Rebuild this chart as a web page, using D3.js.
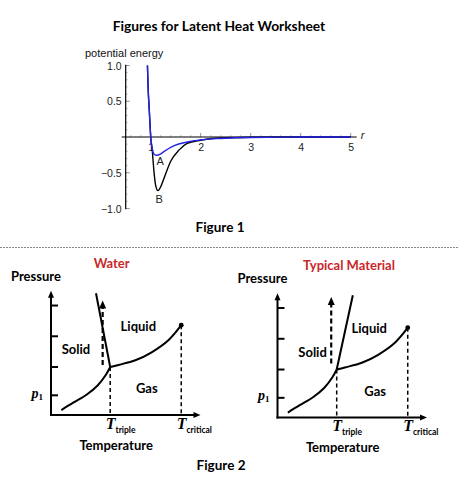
<!DOCTYPE html>
<html>
<head>
<meta charset="utf-8">
<script src="https://cdn.jsdelivr.net/npm/d3@7"></script>
<style>
  html, body { margin: 0; padding: 0; background: #fff; }
  svg { display: block; }
</style>
</head>
<body>
<div id="chart"></div>
<script>
// ---- Figure 1 data ----
const r_values   = [0.92, 0.935, 0.95, 0.967, 0.985, 1.0, 1.03, 1.065, 1.1, 1.145, 1.19, 1.27, 1.4, 1.57, 1.73, 2.0, 2.4, 3.0, 4.0, 5.0];
const pe_black   = [1.25, 1.0, 0.66, 0.43, 0.2, 0, -0.18, -0.48, -0.68, -0.75, -0.71, -0.57, -0.34, -0.18, -0.09, -0.045, -0.015, -0.004, 0, 0];
const r_blue     = [0.92, 0.935, 0.95, 0.967, 0.985, 1.0, 1.02, 1.04, 1.07, 1.12, 1.2, 1.27, 1.47, 1.73, 2.0, 2.4, 3.0, 4.0, 5.0];
const pe_blue    = [1.25, 1.0, 0.66, 0.43, 0.2, 0, -0.12, -0.2, -0.24, -0.255, -0.235, -0.2, -0.12, -0.07, -0.04, -0.02, -0.006, -0.001, 0];
const x_ticks    = [1, 2, 3, 4, 5];
const y_ticks    = [1.0, 0.5, -0.5, -1.0];
const y_tick_lbl = ['1.0', '0.5', '\u22120.5', '\u22121.0'];

// ---- Figure 2 data (abstract units 0..10 on both axes) ----
const gas_solid   = [[0.7, 0.4], [1.5, 1.0], [2.4, 1.65], [3.15, 2.4], [3.7, 3.25], [4.0, 3.9]];
const liquid_gas  = [[4.0, 3.9], [4.55, 4.07], [5.7, 4.45], [6.8, 5.1], [7.95, 6.1], [8.8, 7.3]];
const triple_pt   = [4.0, 3.9];
const critical_pt = [8.8, 7.3];
const p_ticks     = [1.6, 3.9, 6.4, 8.9];
const panels = [
  { title: 'Water',            melt_top: [3.04, 9.9], arrow_x: 3.49, arrow_from: 4.07, arrow_to: 9.3 },
  { title: 'Typical Material', melt_top: [5.09, 9.94], arrow_x: 3.63, arrow_from: 4.39, arrow_to: 9.8 }
];

const width = 458, height = 479;
const svg = d3.select('#chart').append('svg')
  .attr('width', width).attr('height', height)
  .attr('viewBox', [0, 0, width, height]);

const sans = 'Lato, "Open Sans", sans-serif';
const helv = '"Liberation Sans", Arial, sans-serif';
const serif = '"Liberation Serif", "DejaVu Serif", serif';

svg.append('text').attr('x', 219).attr('y', 31).attr('text-anchor', 'middle')
  .attr('font-family', sans).attr('font-weight', 700).attr('font-size', 13.8)
  .text('Figures for Latent Heat Worksheet');

// ━━━━━━━━━━━━━━━━━━━━━━━━━━━━━━━━━━━━━━━━━━━━━━━━━━━━━━━━━━━━━━━━
// Figure 1: potential energy
// ━━━━━━━━━━━━━━━━━━━━━━━━━━━━━━━━━━━━━━━━━━━━━━━━━━━━━━━━━━━━━━━━
const x = d3.scaleLinear().domain([0.5, 5]).range([125.7, 350.7]);
const y = d3.scaleLinear().domain([-1, 1]).range([208.5, 65.5]);

const fig1 = svg.append('g').attr('id', 'figure-1');
fig1.append('defs').append('clipPath').attr('id', 'clip1')
  .append('rect').attr('x', x(0.5)).attr('y', y(1)).attr('width', x(5.2) - x(0.5)).attr('height', y(-1) - y(1));

// minor ticks
const minorX = d3.range(0.6, 5.01, 0.2).filter(v => Math.abs(v - Math.round(v)) > 0.01);
fig1.append('g').selectAll('line').data(minorX).join('line')
  .attr('x1', d => x(d)).attr('x2', d => x(d)).attr('y1', y(0)).attr('y2', y(0) - 2)
  .attr('stroke', '#999').attr('stroke-width', 0.6);
fig1.append('g').selectAll('line').data(x_ticks).join('line')
  .attr('x1', d => x(d)).attr('x2', d => x(d)).attr('y1', y(0)).attr('y2', y(0) - 4)
  .attr('stroke', '#777').attr('stroke-width', 0.8);
const minorY = d3.range(-0.9, 0.91, 0.1).filter(v => Math.abs(v * 2 - Math.round(v * 2)) > 0.01);
fig1.append('g').selectAll('line').data(minorY).join('line')
  .attr('x1', x(0.5)).attr('x2', x(0.5) + 2).attr('y1', d => y(d)).attr('y2', d => y(d))
  .attr('stroke', '#999').attr('stroke-width', 0.6);
fig1.append('g').selectAll('line').data(y_ticks).join('line')
  .attr('x1', x(0.5)).attr('x2', x(0.5) + 4).attr('y1', d => y(d)).attr('y2', d => y(d))
  .attr('stroke', '#777').attr('stroke-width', 0.8);

// axes
fig1.append('line').attr('x1', x(0.42)).attr('x2', x(5.12)).attr('y1', y(0)).attr('y2', y(0))
  .attr('stroke', '#000').attr('stroke-width', 1.2);
fig1.append('line').attr('x1', x(0.5)).attr('x2', x(0.5)).attr('y1', y(1.01)).attr('y2', y(-1.01))
  .attr('stroke', '#000').attr('stroke-width', 1.2);

fig1.append('g').selectAll('text').data(x_ticks).join('text')
  .attr('x', d => x(d) + 0.5).attr('y', y(0) + 14).attr('text-anchor', 'middle')
  .attr('font-family', helv).attr('font-size', 10.5).attr('fill', '#222')
  .text(d => d);
fig1.append('g').selectAll('text').data(y_ticks).join('text')
  .attr('x', x(0.5) - 4).attr('y', d => y(d) + 4).attr('text-anchor', 'end')
  .attr('font-family', helv).attr('font-size', 10.5).attr('fill', '#222')
  .text((d, i) => y_tick_lbl[i]);

fig1.append('text').attr('x', 85).attr('y', 57)
  .attr('font-family', helv).attr('font-size', 11).attr('fill', '#111').text('potential energy');
fig1.append('text').attr('x', x(5.2)).attr('y', y(0) + 2)
  .attr('font-family', helv).attr('font-style', 'italic').attr('font-size', 11).attr('fill', '#222').text('r');

const line1 = d3.line().curve(d3.curveMonotoneX);
fig1.append('path')
  .attr('d', line1(r_values.map((r, i) => [x(r), y(pe_black[i])])))
  .attr('clip-path', 'url(#clip1)')
  .attr('fill', 'none').attr('stroke', '#000').attr('stroke-width', 1.4);
fig1.append('path')
  .attr('d', line1(r_blue.map((r, i) => [x(r), y(pe_blue[i])])))
  .attr('clip-path', 'url(#clip1)')
  .attr('fill', 'none').attr('stroke', '#2222e8').attr('stroke-width', 1.4);

fig1.append('text').attr('x', x(1.19)).attr('y', y(-0.39)).attr('text-anchor', 'middle')
  .attr('font-family', helv).attr('font-size', 11).attr('fill', '#222').text('A');
fig1.append('text').attr('x', x(1.17)).attr('y', y(-0.92)).attr('text-anchor', 'middle')
  .attr('font-family', helv).attr('font-size', 11).attr('fill', '#222').text('B');

svg.append('text').attr('x', 220).attr('y', 232).attr('text-anchor', 'middle')
  .attr('font-family', sans).attr('font-weight', 700).attr('font-size', 13.5).text('Figure 1');

svg.append('line').attr('x1', 0).attr('x2', width).attr('y1', 247.5).attr('y2', 247.5)
  .attr('stroke', '#888').attr('stroke-width', 1).attr('stroke-dasharray', '2,1');

// ━━━━━━━━━━━━━━━━━━━━━━━━━━━━━━━━━━━━━━━━━━━━━━━━━━━━━━━━━━━━━━━━
// Figure 2: phase diagrams
// ━━━━━━━━━━━━━━━━━━━━━━━━━━━━━━━━━━━━━━━━━━━━━━━━━━━━━━━━━━━━━━━━
const layout = [
  { ox: 51,    oy: 415,   titleX: 111.7 },
  { ox: 277.5, oy: 417.5, titleX: 349 }
];

panels.forEach((p, k) => {
  const L = layout[k];
  const px = d3.scaleLinear().domain([0, 10]).range([L.ox, L.ox + 148]);
  const py = d3.scaleLinear().domain([0, 10]).range([L.oy, L.oy - 123]);
  const g = svg.append('g').attr('id', 'panel-' + k);
  const line = d3.line().x(d => px(d[0])).y(d => py(d[1])).curve(d3.curveCatmullRom);

  g.append('text').attr('x', L.titleX).attr('y', L.oy - 147.5).attr('text-anchor', 'middle')
    .attr('font-family', sans).attr('font-weight', 700).attr('font-size', 13).attr('fill', '#c8282a')
    .text(p.title);
  g.append('text').attr('x', L.ox - 40).attr('y', L.oy - 134.5)
    .attr('font-family', sans).attr('font-weight', 700).attr('font-size', 13).text('Pressure');

  // axes with arrows
  g.append('line').attr('x1', px(0)).attr('x2', px(0)).attr('y1', py(0) + 1).attr('y2', py(9.8))
    .attr('stroke', '#000').attr('stroke-width', 2);
  g.append('path').attr('d', `M${px(0)},${py(10.1)} l-3,7 l6,0 z`).attr('fill', '#000');
  g.append('line').attr('x1', px(0) - 1).attr('x2', px(9.8)).attr('y1', py(0)).attr('y2', py(0))
    .attr('stroke', '#000').attr('stroke-width', 2);
  g.append('path').attr('d', `M${px(10.1)},${py(0)} l-7,-3 l0,6 z`).attr('fill', '#000');

  g.append('g').selectAll('line').data(p_ticks).join('line')
    .attr('x1', px(0)).attr('x2', px(0) + 7).attr('y1', d => py(d)).attr('y2', d => py(d))
    .attr('stroke', '#000').attr('stroke-width', 2);

  const p1 = g.append('text').attr('x', px(0) - 19.5).attr('y', py(p_ticks[0]) + 2.5)
    .attr('font-family', serif).attr('font-weight', 700).attr('font-style', 'italic').attr('font-size', 14);
  p1.append('tspan').text('p');
  p1.append('tspan').attr('dy', 2).attr('font-size', 9).attr('font-style', 'normal').text('1');

  // dashed guides
  [triple_pt, critical_pt].forEach(pt => {
    g.append('line').attr('x1', px(pt[0])).attr('x2', px(pt[0])).attr('y1', py(pt[1])).attr('y2', py(0))
      .attr('stroke', '#000').attr('stroke-width', 1.5).attr('stroke-dasharray', '4,3');
  });

  // phase boundaries
  g.append('path').attr('d', line(gas_solid)).attr('fill', 'none').attr('stroke', '#000').attr('stroke-width', 2);
  g.append('path').attr('d', line(liquid_gas)).attr('fill', 'none').attr('stroke', '#000').attr('stroke-width', 2);
  g.append('line').attr('x1', px(triple_pt[0])).attr('y1', py(triple_pt[1]))
    .attr('x2', px(p.melt_top[0])).attr('y2', py(p.melt_top[1]))
    .attr('stroke', '#000').attr('stroke-width', 2);
  g.append('circle').attr('cx', px(critical_pt[0])).attr('cy', py(critical_pt[1])).attr('r', 2.4).attr('fill', '#000');

  // dashed arrow
  g.append('line').attr('x1', px(p.arrow_x)).attr('x2', px(p.arrow_x))
    .attr('y1', py(p.arrow_from)).attr('y2', py(p.arrow_to) + 6)
    .attr('stroke', '#000').attr('stroke-width', 2.2).attr('stroke-dasharray', '5,3');
  g.append('path').attr('d', `M${px(p.arrow_x)},${py(p.arrow_to)} l-3.5,8 l7,0 z`).attr('fill', '#000');

  // region labels
  const lab = (txt, tx, ty) => g.append('text').attr('x', px(tx)).attr('y', py(ty)).attr('text-anchor', 'middle')
    .attr('font-family', sans).attr('font-weight', 700).attr('font-size', 13).text(txt);
  lab('Liquid', k === 0 ? 5.9 : 6.2, 6.85);
  lab('Solid', k === 0 ? 1.69 : 2.37, 4.95);
  lab('Gas', k === 0 ? 6.47 : 6.6, 1.75);

  // temperature labels
  [[triple_pt, 'triple'], [critical_pt, 'critical']].forEach(([pt, sub]) => {
    const t = g.append('text').attr('x', px(pt[0]) - 4.5).attr('y', L.oy + 13.5);
    t.append('tspan').attr('font-family', serif).attr('font-weight', 700).attr('font-style', 'italic')
      .attr('font-size', 16).text('T');
    t.append('tspan').attr('dy', 4).attr('font-family', sans).attr('font-weight', 700).attr('font-size', 8.5).text(sub);
  });
  g.append('text').attr('x', px(4.4)).attr('y', L.oy + 34.5).attr('text-anchor', 'middle')
    .attr('font-family', sans).attr('font-weight', 700).attr('font-size', 13).text('Temperature');
});

svg.append('text').attr('x', 221).attr('y', 470).attr('text-anchor', 'middle')
  .attr('font-family', sans).attr('font-weight', 700).attr('font-size', 13.5).text('Figure 2');
</script>
</body>
</html>
